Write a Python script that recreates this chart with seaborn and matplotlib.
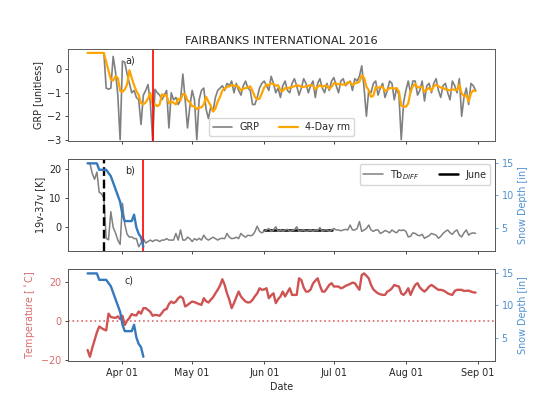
import numpy as np
import pandas as pd
import seaborn as sns
import matplotlib.pyplot as plt
import matplotlib.dates as mdates

# daily values, 2016-03-17 .. 2016-08-31
start = '2016-03-17'

grp = [0.7, 0.7, 0.7, 0.7, 0.7, 0.7, 0.7, 0.7, -0.8, -0.85,
       -0.8, 0.55, -0.1, -1.1, -3.0, 0.35, 0.3, -0.2, -0.6, -1.0,
       -0.9, -1.2, -1.3, -2.35, -1.1, -0.9, -0.65, -1.4, -3.05, -0.85,
       -1.0, -1.1, -1.3, -1.1, -0.9, -2.5, -1.0, -1.3, -1.2, -1.5,
       -1.3, -0.2, -1.3, -2.5, -1.6, -0.9, -1.3, -3.0, -1.3, -0.9,
       -0.8, -1.7, -2.1, -1.6, -1.8, -1.2, -0.9, -0.8, -0.7, -0.9,
       -0.6, -0.7, -0.5, -1.0, -0.6, -0.9, -1.1, -0.7, -0.5, -0.8,
       -0.9, -1.5, -1.5, -1.2, -0.8, -0.6, -0.5, -0.7, -0.9, -0.3,
       -0.6, -1.0, -0.8, -1.2, -0.7, -0.5, -0.9, -1.0, -0.6, -0.4,
       -0.7, -1.1, -0.8, -0.4, -0.6, -1.0, -0.7, -0.5, -1.2, -0.6,
       -0.4, -0.8, -1.0, -0.6, -0.9, -0.5, -0.35, -0.7, -1.0, -0.5,
       -0.4, -0.7, -0.6, -0.5, -0.9, -0.4, -0.5, -0.3, 0.15, -0.8,
       -2.0, -0.9, -1.0, -0.6, -0.5, -1.1, -0.8, -0.6, -1.2, -0.9,
       -0.5, -0.6, -1.3, -0.8, -1.1, -3.0, -1.4, -0.9, -0.5, -1.0,
       -0.5, -0.5, -1.1, -0.9, -0.5, -1.35, -0.7, -0.6, -1.0, -0.6,
       -0.4, -0.9, -1.2, -0.7, -0.6, -1.0, -1.3, -0.5, -0.7, -1.0,
       -0.4, -2.0, -1.2, -0.8, -1.5, -0.6, -0.7, -0.9]

tb_diff = [22, 22, 18.5, 16.5, 19, 12, 11.5, 10, -3.9, -4.4,
           5.3, -0.1, -2, -4.5, -6, 8.2, 1, -2.5, -3.5, -3.4,
           -4, -4, -6.8, -5.5, -4, -5.5, -5, -4.5, -5, -4.5,
           -4.5, -5, -4.5, -4.5, -4, -4.5, -4.5, -4.5, -2.2, -4.5,
           -1, -4.5, -4.5, -3.5, -4, -5, -4, -4.5, -3.9, -4.5,
           -2.8, -4, -4.5, -4, -3.5, -4, -4.5, -4, -3.9, -4,
           -2.2, -3.5, -4, -3.9, -3.5, -4, -2.2, -3, -3.5, -2.8,
           -3, -2.8, -1.6, 0.3, -1.5, -2, -1.5, -1, -0.5, -1.5,
           -1, 0.1, -1.5, -1, -1.5, -1, -0.8, -1.5, -1.2, -1,
           0.1, -1.5, -1.2, -1, -1.5, -1.3, -1, -1.5, -1, -1.2,
           -0.2, -1.5, -1, -1, -1.5, -1, -0.5, -1, -1, -1.3,
           -1, -0.8, -1, 0.7, -1, -1, -0.5, 1.9, -1.5, -1,
           -0.5, 0.7, -1, -1.5, -1, -1, -2.2, -1.8, -1.2, -1.5,
           -2, -1, -1.6, -2, -1, -1.2, -1, -1.5, -3.4, -3.2,
           -2, -2.2, -2.8, -3, -2.5, -3.9, -3.4, -3, -2.2, -2.5,
           -2.8, -3.9, -3.2, -2.2, -1.5, -1, -2, -2.5, -1.5, -1,
           -2.8, -3.4, -2, -1, -2.8, -2.2, -2, -2.2]

temp = [-15, -18.5, -14, -10, -6, -3, -3.8, -4.5, -5, 3.6,
        1.9, 1.6, 1.4, 2.2, 0.8, 2.5, -2.2, 0, 1.4, 3.4,
        2.8, 2.7, 4.7, 3.6, 6.4, 6.4, 5.5, 4.5, 2.5, 3,
        2.8, 2.5, 4, 5.6, 5.9, 8.5, 9.8, 9, 9.8, 11.5,
        12.4, 11.5, 7.3, 8, 9, 9.8, 9.5, 9, 8.5, 8.1,
        11.5, 10, 9.3, 10.7, 12, 14, 15.8, 18, 21.2, 18.3,
        14, 10.7, 6.4, 9, 12, 14.9, 12.4, 11, 9.8, 9.3,
        9.5, 10.7, 12.5, 14, 16.6, 15.8, 16, 16.6, 11.5, 13,
        14, 9, 11, 12.4, 14.9, 12.4, 14.5, 16.6, 13.2, 13.2,
        13.2, 21.7, 20.8, 17, 14.9, 14.9, 16, 19, 20.5, 21.7,
        18, 14.9, 14.9, 16.5, 18.3, 19.2, 17.5, 17.5, 17.5, 16.6,
        17, 17.8, 18.3, 18.8, 19.5, 19.2, 17.5, 15.8, 23.4, 24.2,
        23, 21.7, 18.3, 16, 14.9, 14, 13.5, 13.2, 13.2, 14.9,
        15.5, 16.6, 18.3, 17.8, 17.5, 14, 13.2, 14.5, 16.6, 13.2,
        16, 18.3, 19.2, 17, 15.8, 14.9, 16, 17.5, 18.3, 17.5,
        16.6, 15.8, 15.8, 15.5, 14.9, 14, 13.5, 13.2, 15.2, 15.8,
        15.8, 15.8, 15.2, 15.3, 15.4, 14.9, 14.5, 14.4]

# snow depth [in], 2016-03-17 .. 2016-04-10
snow = [15, 15, 15, 15, 15, 14, 14, 14, 14, 13.5,
        13, 12, 11, 10, 9, 7, 6, 6, 6, 6,
        7, 5, 4, 3.5, 2]

red_a = '2016-04-14'
red_b = '2016-04-10'
melt_day = '2016-03-24'

dates = pd.date_range(start, periods=len(grp), freq='D')
snow_dates = dates[:len(snow)]

df = pd.DataFrame({'date': dates, 'GRP': grp, 'Tb': tb_diff, 'T': temp})
df['rm'] = df['GRP'].rolling(4, min_periods=1).mean()
june = df[df['date'].dt.month == 6].copy()
june['level'] = june['Tb'].mean()

sns.set_style('ticks')
plt.rcParams['font.family'] = ['DejaVu Sans']
plt.rcParams.update({
    'font.size': 6.9, 'axes.labelsize': 6.9, 'xtick.labelsize': 6.9,
    'ytick.labelsize': 6.9, 'legend.fontsize': 6.9,
    'axes.edgecolor': '.35', 'axes.linewidth': 0.7,
    'xtick.major.size': 2.4, 'ytick.major.size': 2.4,
    'xtick.major.width': 0.6, 'ytick.major.width': 0.6,
    'xtick.major.pad': 2.4, 'ytick.major.pad': 2.4,
    'axes.labelpad': 2.8,
})

blue = '#3579bd'
blue_txt = '#4f92d0'
red = '#cf5353'
red_txt = '#d86b6b'

fig, (ax1, ax2, ax3) = plt.subplots(3, 1, figsize=(5.5, 4.13), dpi=100, sharex=True)
fig.subplots_adjust(left=0.124, right=0.9, top=0.881, bottom=0.126, hspace=0.2)

# a) GRP
sns.lineplot(data=df, x='date', y='GRP', color='grey', lw=1.2, label='GRP', ax=ax1)
sns.lineplot(data=df, x='date', y='rm', color='orange', lw=1.6, label='4-Day rm', ax=ax1)
ax1.axvline(pd.Timestamp(red_a), color='red', lw=1.2)
ax1.set_ylim(-3.05, 0.86)
ax1.set_yticks([-3, -2, -1, 0])
ax1.set_ylabel('GRP [unitless]')
ax1.set_xlabel('')
ax1.set_title('FAIRBANKS INTERNATIONAL 2016', fontsize=8.25, pad=4)
ax1.legend(loc='lower center', ncol=2)
ax1.text(0.133, 0.88, 'a)', transform=ax1.transAxes, va='center')

# b) Tb difference + snow depth
sns.lineplot(data=june, x='date', y='level', color='black', lw=1.8, label='June', ax=ax2)
sns.lineplot(data=df, x='date', y='Tb', color='grey', lw=1.1, label='Tb$_{DIFF}$', ax=ax2)
ax2.axvline(pd.Timestamp(melt_day), color='black', ls='--', lw=1.7)
ax2.axvline(pd.Timestamp(red_b), color='red', lw=1.2)
ax2.set_yticks([0, 10, 20])
ax2.set_ylabel('19v-37v [K]')
ax2.set_xlabel('')
h, l = ax2.get_legend_handles_labels()
ax2.legend(h[::-1], l[::-1], loc='upper right', ncol=2)
ax2.text(0.133, 0.88, 'b)', transform=ax2.transAxes, va='center')

ax2b = ax2.twinx()
sns.lineplot(x=snow_dates, y=snow, color=blue, lw=1.7, ax=ax2b)
ax2b.set_yticks([5, 10, 15])
ax2b.set_ylabel('Snow Depth [in]', color=blue_txt)
ax2b.tick_params(axis='y', colors=blue_txt)

# c) temperature + snow depth
sns.lineplot(data=df, x='date', y='T', color=red, lw=1.7, ax=ax3)
ax3.axhline(0, color=red_txt, ls=':', lw=1.2)
ax3.set_yticks([-20, 0, 20])
ax3.set_ylabel('Temperature [$^\\circ$C]', color=red_txt)
ax3.tick_params(axis='y', labelcolor=red_txt)
ax3.set_xlabel('Date')
ax3.text(0.133, 0.88, 'c)', transform=ax3.transAxes, va='center')

ax3b = ax3.twinx()
sns.lineplot(x=snow_dates, y=snow, color=blue, lw=1.7, ax=ax3b)
ax3b.set_yticks([5, 10, 15])
ax3b.set_ylabel('Snow Depth [in]', color=blue_txt)
ax3b.tick_params(axis='y', colors=blue_txt)

ax3.xaxis.set_major_locator(mdates.MonthLocator())
ax3.xaxis.set_major_formatter(mdates.DateFormatter('%b %d'))

fig.savefig('out.png', dpi=100)
